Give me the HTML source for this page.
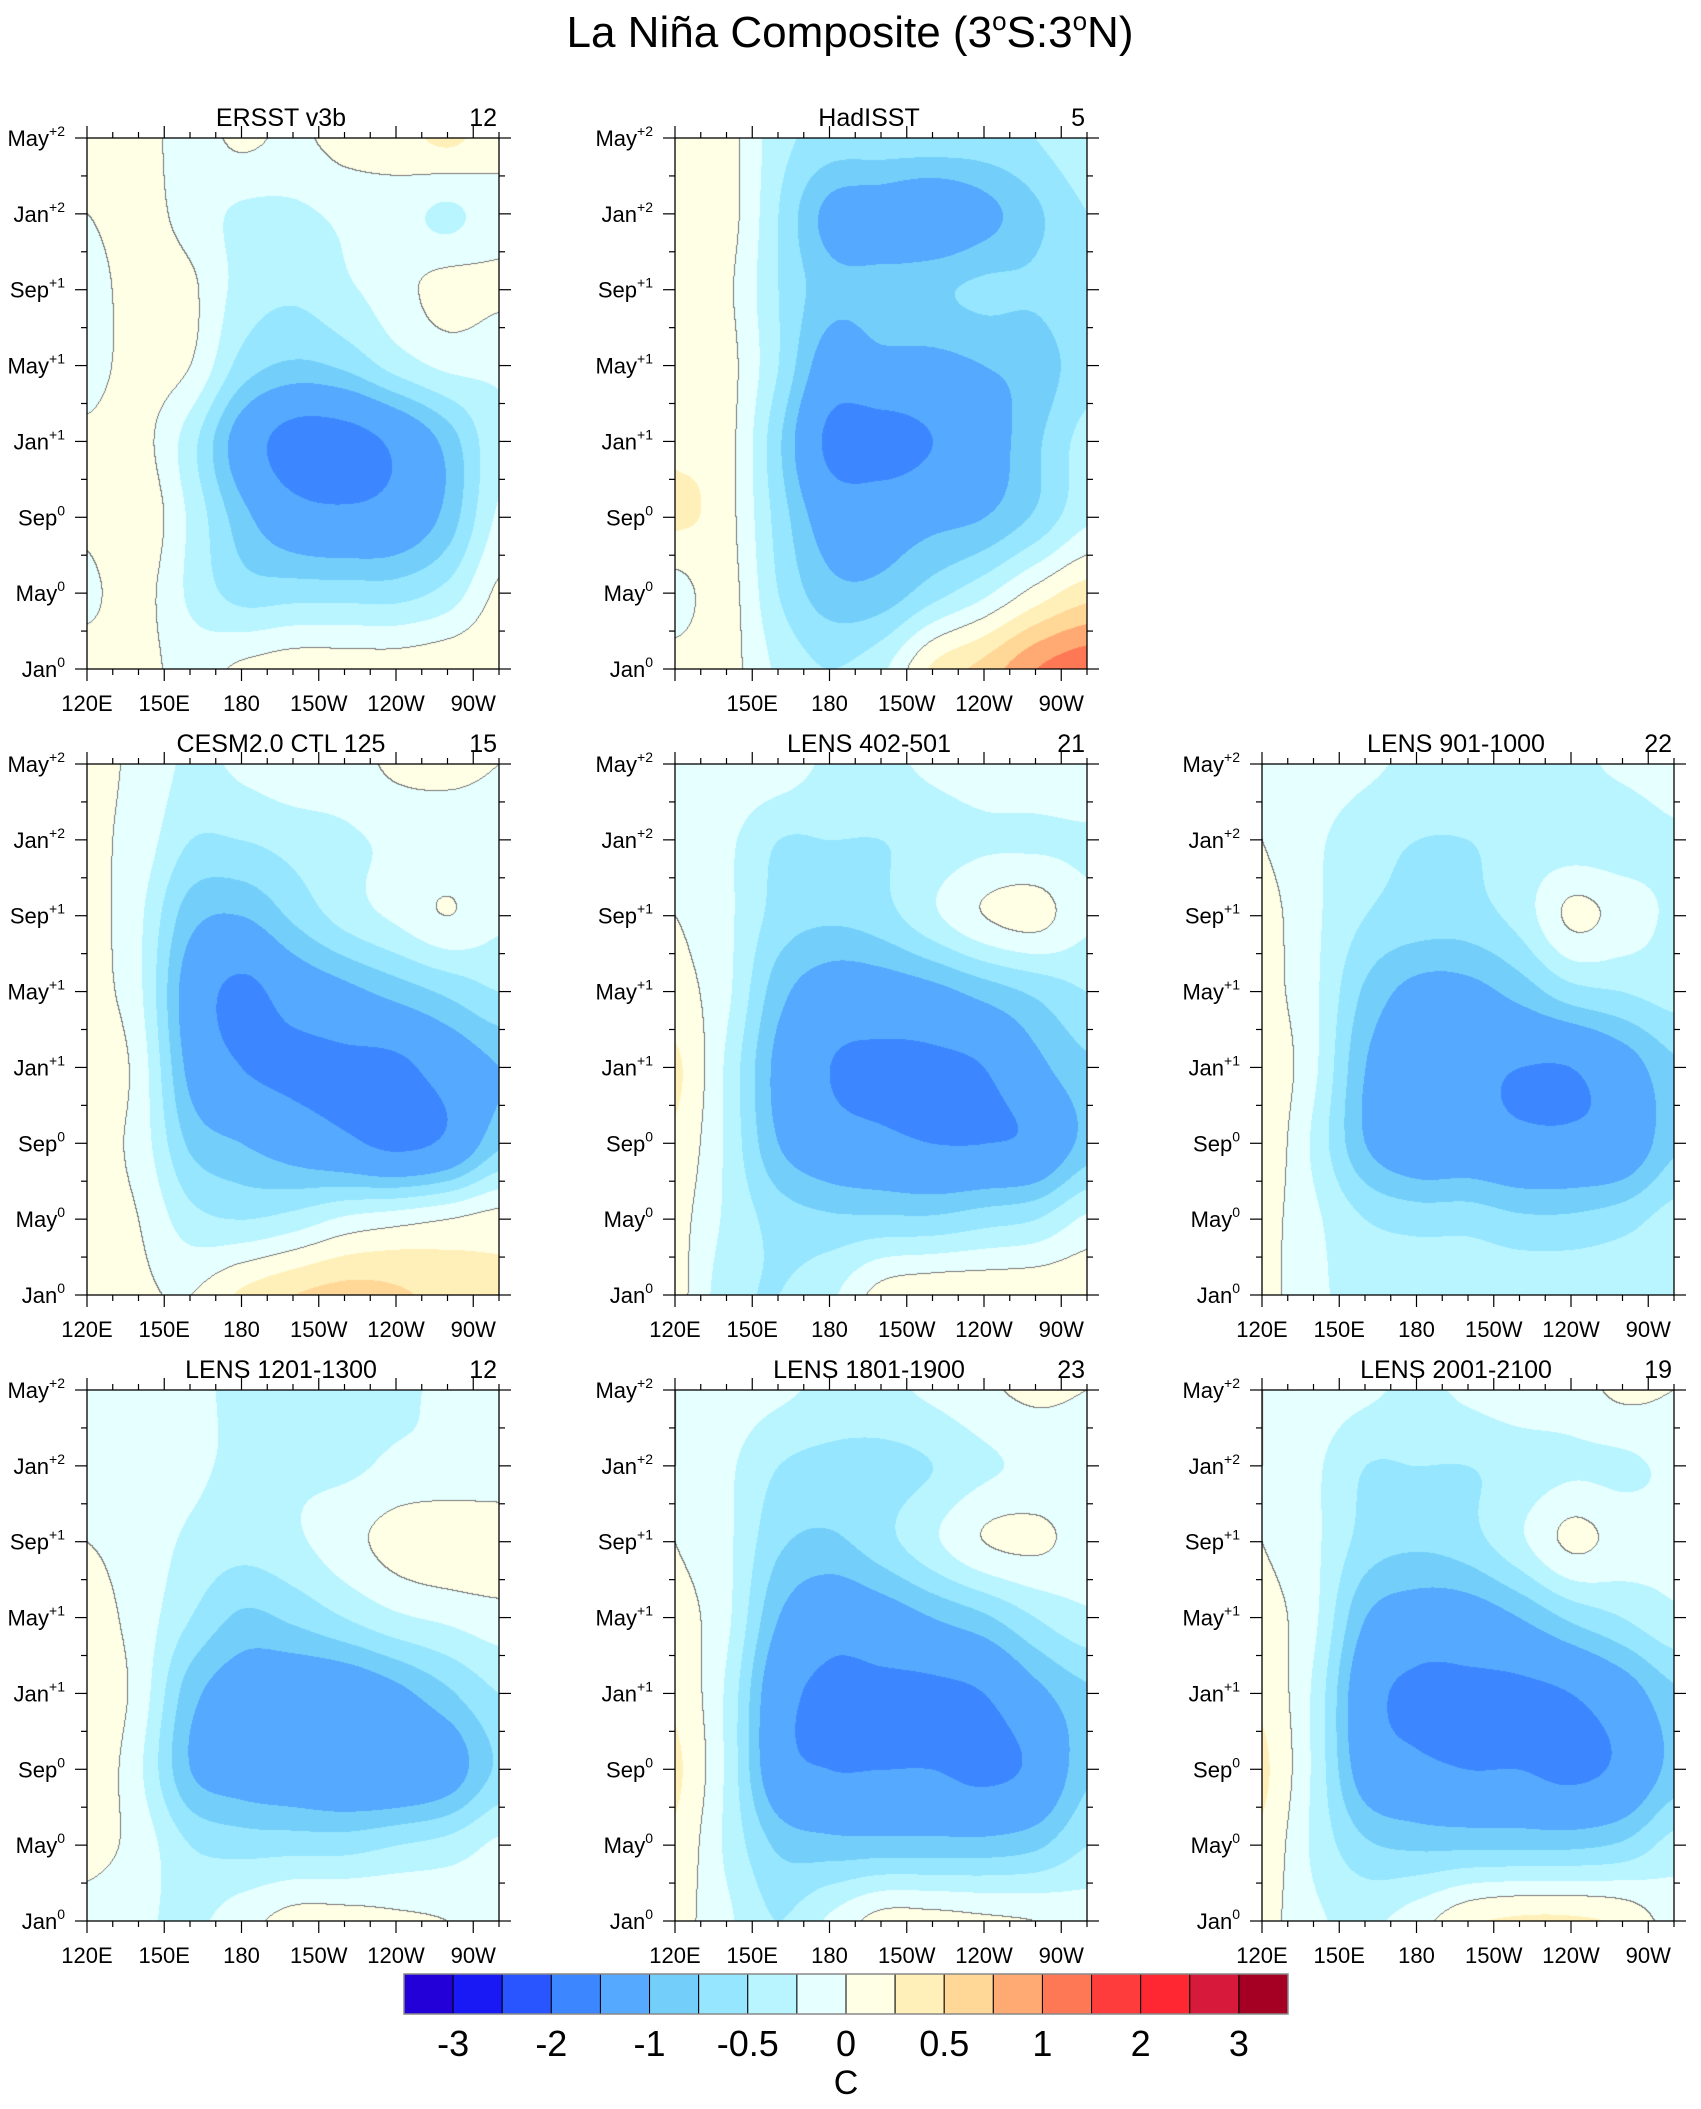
<!DOCTYPE html>
<html><head><meta charset="utf-8">
<style>
html,body{margin:0;padding:0;background:#fff;}
#wrap{position:relative;width:1701px;height:2109px;overflow:hidden;font-family:"Liberation Sans",Arial,sans-serif;}
canvas{position:absolute;}
svg{position:absolute;left:0;top:0;}
</style></head>
<body>
<div id="wrap">
<svg id="ov" width="1701" height="2109">
<text x="850" y="47" text-anchor="middle" font-size="44">La Niña Composite (3<tspan dy="-17" font-size="26">o</tspan><tspan dy="17">S:3</tspan><tspan dy="-17" font-size="26">o</tspan><tspan dy="17">N)</tspan></text>
</svg>
</div>
<script>
// ---- data ----
const lonGrid = [120,140,160,180,200,220,240,260,280];
const timeGrid = [0,4,8,12,16,20,24,28];
const levels = [-3,-2.5,-2,-1.5,-1,-0.75,-0.5,-0.25,0,0.25,0.5,0.75,1,1.5,2,2.5,3];
const levelColors = ["#2300d8","#1919f5","#2855ff","#3c87ff","#55aaff","#73cffa","#96e6ff","#b9f5ff","#e6ffff","#ffffe6","#fff0b9","#ffd796","#ffaa73","#ff7855","#ff3c3c","#ff2832","#d7193c","#a50023"];
const cbLabels = ["-3","-2","-1","-0.5","0","0.5","1","2","3"];
const xTickLabels = ["120E","150E","180","150W","120W","90W"];
const xTickLons = [120,150,180,210,240,270];
const yTickLabels = [["Jan","0"],["May","0"],["Sep","0"],["Jan","+1"],["May","+1"],["Sep","+1"],["Jan","+2"],["May","+2"]];
const yTickTimes = [0,4,8,12,16,20,24,28];
const panelTitles = ["ERSST v3b","HadISST","CESM2.0 CTL 125","LENS 402-501","LENS 901-1000","LENS 1201-1300","LENS 1801-1900","LENS 2001-2100"];
const panelCounts = ["12","5","15","21","22","12","23","19"];
// fields: rows by time (Jan0 first), columns by lon
const fERSST = [[0.1,0.1,-0.1,0.05,0.15,0.15,0.15,0.2,0.2],[-0.05,0.1,-0.3,-0.6,-0.6,-0.6,-0.6,-0.4,0.05],[0.05,0.2,-0.3,-0.9,-1.3,-1.4,-1.3,-0.9,-0.2],[0.05,0.1,-0.4,-1.2,-1.7,-1.7,-1.4,-0.9,-0.3],[-0.1,0.1,0.0,-0.6,-0.8,-0.7,-0.4,-0.2,-0.2],[-0.1,0.1,0.05,-0.35,-0.45,-0.3,-0.1,0.1,0.05],[0,0.1,-0.1,-0.3,-0.3,-0.2,-0.15,-0.3,-0.1],[0.1,0.1,-0.1,0.05,-0.05,0.1,0.15,0.3,0.1]];
const fHad = [[0.1,0.1,-0.3,-0.5,-0.3,0.3,0.6,1.0,1.2],[-0.1,0.1,-0.5,-0.9,-0.9,-0.6,-0.3,0.1,0.4],[0.3,0.1,-0.6,-1.2,-1.2,-1.1,-1.0,-0.7,-0.3],[0.2,0.1,-0.7,-1.6,-1.7,-1.5,-1.2,-0.8,-0.4],[0.2,0.1,-0.5,-1.2,-1.1,-1.1,-1.0,-0.9,-0.6],[0.1,0.05,-0.5,-0.9,-0.9,-0.8,-0.7,-0.7,-0.5],[0.0,0.1,-0.5,-1.1,-1.2,-1.3,-1.1,-0.8,-0.5],[0.1,0.1,-0.4,-0.6,-0.6,-0.6,-0.6,-0.5,-0.3]];
const fCESM = [[0.2,0.05,0.0,0.3,0.5,0.6,0.55,0.4,0.3],[0.1,0.0,-0.4,-0.5,-0.4,-0.2,-0.1,0.0,0.1],[0.1,-0.1,-0.8,-1.0,-1.2,-1.4,-1.6,-1.4,-0.8],[0.2,-0.1,-1.1,-1.5,-1.6,-1.6,-1.6,-1.3,-1.0],[0.1,-0.2,-1.2,-1.6,-1.3,-1.1,-0.9,-0.7,-0.5],[0.1,-0.2,-0.9,-1.0,-0.7,-0.4,-0.2,0.0,-0.2],[0.05,-0.1,-0.5,-0.5,-0.4,-0.3,-0.2,-0.2,-0.2],[0.05,-0.05,-0.3,-0.2,-0.1,-0.1,0.05,0.1,0.0]];
const fL402 = [[0.1,-0.4,-0.5,-0.3,0.1,0.2,0.2,0.2,0.2],[0.1,-0.3,-0.6,-0.7,-0.7,-0.7,-0.6,-0.5,-0.2],[0.2,-0.3,-1.0,-1.3,-1.4,-1.5,-1.5,-1.4,-0.9],[0.3,-0.3,-1.1,-1.5,-1.6,-1.6,-1.5,-1.1,-0.8],[0.1,-0.2,-0.9,-1.2,-1.2,-1.1,-0.9,-0.7,-0.5],[0.0,-0.2,-0.6,-0.7,-0.6,-0.3,0.0,0.1,-0.2],[-0.1,-0.2,-0.5,-0.5,-0.5,-0.4,-0.3,-0.3,-0.3],[0.0,-0.05,-0.1,-0.3,-0.3,-0.2,-0.1,-0.05,0.0]];
const fL901 = [[0.1,-0.2,-0.3,-0.3,-0.3,-0.3,-0.3,-0.3,-0.3],[0.1,-0.2,-0.5,-0.6,-0.6,-0.7,-0.7,-0.6,-0.4],[0.2,-0.3,-1.0,-1.3,-1.3,-1.4,-1.4,-1.3,-0.8],[0.2,-0.2,-1.0,-1.3,-1.4,-1.5,-1.5,-1.2,-0.8],[0.1,-0.2,-0.8,-1.1,-1.1,-0.9,-0.6,-0.5,-0.4],[0.1,-0.2,-0.5,-0.6,-0.6,-0.4,0.05,-0.1,-0.3],[0.0,-0.2,-0.4,-0.5,-0.5,-0.4,-0.4,-0.4,-0.3],[0.0,-0.1,-0.2,-0.3,-0.3,-0.3,-0.3,-0.2,-0.1]];
const fL1201 = [[-0.1,-0.2,-0.3,-0.1,0.1,0.1,0.05,0.0,-0.1],[0.1,-0.1,-0.5,-0.6,-0.6,-0.6,-0.5,-0.4,-0.2],[0.2,-0.2,-1.0,-1.2,-1.3,-1.4,-1.4,-1.2,-0.7],[0.2,-0.1,-0.9,-1.2,-1.3,-1.3,-1.1,-0.8,-0.5],[0.1,-0.1,-0.5,-0.8,-0.7,-0.5,-0.3,-0.2,-0.1],[0.0,-0.1,-0.3,-0.4,-0.3,-0.1,0.1,0.2,0.2],[-0.1,-0.1,-0.2,-0.3,-0.3,-0.3,-0.2,-0.2,-0.2],[0.0,-0.1,-0.2,-0.3,-0.4,-0.4,-0.3,-0.2,-0.1]];
const fL1801 = [[0.1,-0.2,-0.5,-0.2,0.1,0.1,0.05,0.0,-0.1],[0.2,-0.3,-0.8,-0.9,-0.9,-0.9,-0.9,-0.8,-0.5],[0.3,-0.3,-1.3,-1.5,-1.5,-1.5,-1.6,-1.4,-0.8],[0.2,-0.3,-1.3,-1.6,-1.6,-1.6,-1.5,-1.1,-0.8],[0.1,-0.2,-1.0,-1.3,-1.2,-1.0,-0.8,-0.5,-0.3],[0.0,-0.2,-0.7,-0.8,-0.6,-0.3,0.0,0.05,-0.1],[0.0,-0.2,-0.5,-0.6,-0.6,-0.5,-0.3,-0.2,-0.2],[0.0,-0.1,-0.2,-0.3,-0.3,-0.2,-0.05,0.05,0.0]];
const fL2001 = [[0.1,-0.2,-0.3,-0.1,0.2,0.3,0.3,0.2,-0.1],[0.2,-0.3,-0.7,-0.8,-0.8,-0.8,-0.8,-0.7,-0.4],[0.3,-0.3,-1.2,-1.4,-1.5,-1.5,-1.6,-1.4,-0.9],[0.2,-0.3,-1.3,-1.6,-1.6,-1.6,-1.5,-1.2,-0.8],[0.1,-0.2,-1.0,-1.2,-1.2,-1.0,-0.7,-0.5,-0.3],[0.0,-0.2,-0.6,-0.7,-0.6,-0.3,0.05,-0.1,-0.2],[0.0,-0.2,-0.5,-0.5,-0.5,-0.4,-0.3,-0.3,-0.2],[0.0,-0.1,-0.2,-0.3,-0.2,-0.1,-0.1,0.05,0.0]];
const fields = [fERSST,fHad,fCESM,fL402,fL901,fL1201,fL1801,fL2001];

// ---- layout ----
const PW=412, PH=531;
const panelPos=[[87,138],[675,138],[87,764],[675,764],[1262,764],[87,1390],[675,1390],[1262,1390]];
const LON0=120, LON1=280, T0=0, T1=28;
const NS='http://www.w3.org/2000/svg';
const ov=document.getElementById('ov');
const wrap=document.getElementById('wrap');
function el(tag,attrs,parent){const e=document.createElementNS(NS,tag);for(const k in attrs)e.setAttribute(k,attrs[k]);(parent||ov).appendChild(e);return e;}
function hex(c){return [parseInt(c.slice(1,3),16),parseInt(c.slice(3,5),16),parseInt(c.slice(5,7),16)];}
const rgb=levelColors.map(hex);
function levelIndex(v){let i=0;while(i<levels.length&&v>=levels[i])i++;return i;}
function cr(p0,p1,p2,p3,t){return 0.5*((2*p1)+(-p0+p2)*t+(2*p0-5*p1+4*p2-p3)*t*t+(-p0+3*p1-3*p2+p3)*t*t*t);}
function sample(f,lon,tm){
  const gx=(lon-lonGrid[0])/(lonGrid[1]-lonGrid[0]);const gy=(tm-timeGrid[0])/(timeGrid[1]-timeGrid[0]);
  const nx=lonGrid.length, ny=timeGrid.length;
  const ix=Math.min(Math.floor(gx),nx-2), iy=Math.min(Math.floor(gy),ny-2);
  const fx=gx-ix, fy=gy-iy;
  const g=(r,c)=>f[Math.max(0,Math.min(ny-1,r))][Math.max(0,Math.min(nx-1,c))];
  const rows=[];
  for(let r=iy-1;r<=iy+2;r++) rows.push(cr(g(r,ix-1),g(r,ix),g(r,ix+1),g(r,ix+2),fx));
  return cr(rows[0],rows[1],rows[2],rows[3],fy);
}
function xScale(p,lon){return panelPos[p][0]+(lon-LON0)/(LON1-LON0)*PW;}
function yScale(p,t){return panelPos[p][1]+PH-(t-T0)/(T1-T0)*PH;}

fields.forEach((f,p)=>{
  const [px,py]=panelPos[p];
  const cv=document.createElement('canvas');
  cv.width=PW;cv.height=PH;cv.style.left=px+'px';cv.style.top=py+'px';
  
  
  wrap.insertBefore(cv,ov);
  const ctx=cv.getContext('2d');const img=ctx.createImageData(PW,PH);
  const vals=new Float32Array(PW*PH);
  for(let y=0;y<PH;y++){const tm=T1-(y/PH)*(T1-T0);
    for(let x=0;x<PW;x++){const lon=LON0+(x/PW)*(LON1-LON0);vals[y*PW+x]=sample(f,lon,tm);}}
  for(let y=0;y<PH;y++)for(let x=0;x<PW;x++){
    const v=vals[y*PW+x];let c=rgb[levelIndex(v)];
    const s=v>=0;
    if((x<PW-1&&(vals[y*PW+x+1]>=0)!==s)||(y<PH-1&&(vals[(y+1)*PW+x]>=0)!==s)) c=[120,120,120];
    const k=(y*PW+x)*4;img.data[k]=c[0];img.data[k+1]=c[1];img.data[k+2]=c[2];img.data[k+3]=255;}
  ctx.putImageData(img,0,0);

  const g=el('g',{});
  
  
  const fr=el('rect',{x:px,y:py,width:PW,height:PH,fill:'none',stroke:'#000','stroke-width':1.3},g);
  
  
  for(let lon=120;lon<=280;lon+=10){
    const x=xScale(p,lon);const major=xTickLons.includes(lon);const L=major?12:6;
    el('line',{x1:x,x2:x,y1:py,y2:py-L,stroke:'#000','stroke-width':1.2},g);
    el('line',{x1:x,x2:x,y1:py+PH,y2:py+PH+L,stroke:'#000','stroke-width':1.2},g);
  }
  for(let t=0;t<=28;t+=2){
    const y=yScale(p,t);const major=yTickTimes.includes(t);const L=major?12:6;
    el('line',{x1:px,x2:px-L,y1:y,y2:y,stroke:'#000','stroke-width':1.2},g);
    el('line',{x1:px+PW,x2:px+PW+L,y1:y,y2:y,stroke:'#000','stroke-width':1.2},g);
  }
  xTickLabels.forEach((lb,i)=>{
    if(p===1&&i===0)return;
    const t=el('text',{x:xScale(p,xTickLons[i]),y:py+PH+42,'text-anchor':'middle','font-size':22},g);
    t.textContent=lb;
    
    
  });
  yTickLabels.forEach((lb,i)=>{
    const t=el('text',{x:px-22,y:yScale(p,yTickTimes[i])+8,'text-anchor':'end','font-size':22},g);
    const a=el('tspan',{},t);a.textContent=lb[0];
    const b=el('tspan',{dy:-10,'font-size':14},t);b.textContent=lb[1];
    
    
  });
  const tt=el('text',{x:px+PW/2-12,y:py-12,'text-anchor':'middle','font-size':25},g);
  tt.textContent=panelTitles[p];
  
  
  const tc=el('text',{x:px+PW-2,y:py-12,'text-anchor':'end','font-size':25},g);
  tc.textContent=panelCounts[p];
  
  
});

// colorbar
const CBX=404, CBY=1974, CBW=884, CBH=40;
const bw=CBW/levelColors.length;
const cbg=el('g',{});


levelColors.forEach((c,i)=>{
  const r=el('rect',{x:CBX+i*bw,y:CBY,width:bw,height:CBH,fill:c,stroke:'#000','stroke-width':1},cbg);
  
  
});
el('rect',{x:CBX,y:CBY,width:CBW,height:CBH,fill:'none',stroke:'#888','stroke-width':1.5},cbg);
cbLabels.forEach((lb,i)=>{
  const t=el('text',{x:CBX+bw*(1+2*i),y:CBY+82,'text-anchor':'middle','font-size':36},cbg);
  t.textContent=lb;
  
  
});
const cu=el('text',{x:CBX+bw*9,y:CBY+120,'text-anchor':'middle','font-size':34},cbg);
cu.textContent='C';


</script>
</body></html>
